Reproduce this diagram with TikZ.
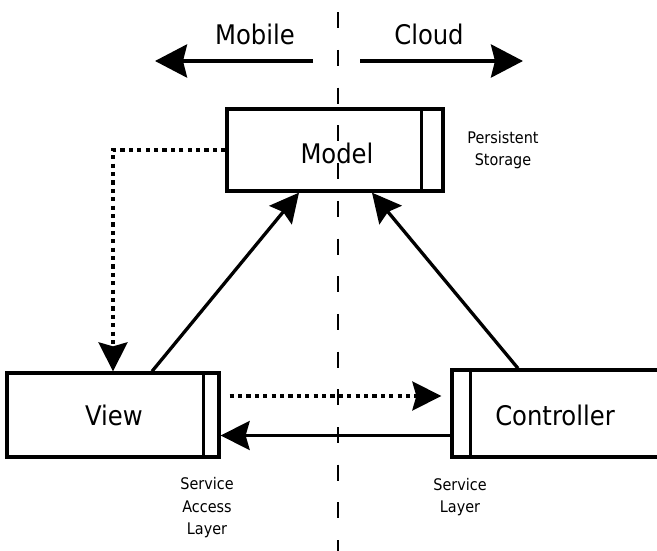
\documentclass[tikz,border=0pt]{standalone}
\usepackage{fontspec}
\setmainfont{DejaVu Sans Condensed}
\usetikzlibrary{arrows.meta}

\begin{document}
\begin{tikzpicture}[x=1pt,y=-1pt,
  box/.style={draw, line width=3.3pt, inner sep=0pt},
  divider/.style={line width=3.3pt},
  big/.style={font=\fontsize{27}{30}\selectfont, inner sep=0pt},
  small/.style={font=\fontsize{16}{22.5}\selectfont, align=center, inner sep=0pt},
  link/.style={line width=3.3pt, -{Stealth[length=29pt,width=29pt,inset=4pt]}},
  dots/.style={link, dash pattern=on 4.2pt off 4.2pt},
  sidearrow/.style={line width=4pt, -{Stealth[length=32pt,width=33pt,inset=4pt]}},
  boundary/.style={line width=2pt, dash pattern=on 16pt off 21.7pt},
]
\useasboundingbox (0,0) rectangle (657,551);

% headings and the two direction arrows
\node[big] (mobile) at (255,34) {Mobile};
\node[big] (cloud) at (429,34) {Cloud};
\coordinate (mobileA) at (313,61);
\coordinate (mobileB) at (155,61);
\coordinate (cloudA) at (360,61);
\coordinate (cloudB) at (523,61);
\draw[sidearrow] (mobileA) -- (mobileB);
\draw[sidearrow] (cloudA) -- (cloudB);

% Model
\node[box, minimum width=216pt, minimum height=82pt] (model) at (335,150) {};
\draw[divider] ([xshift=-23pt]model.north east) -- ([xshift=-23pt]model.south east);
\node[big] (modeltext) at (337,153) {Model};
\node[small] (persist) at (503,150) {Persistent\\Storage};

% View
\node[box, minimum width=212pt, minimum height=84pt] (view) at (113,415) {};
\draw[divider] ([xshift=-17pt]view.north east) -- ([xshift=-17pt]view.south east);
\node[big] (viewtext) at (114,415) {View};
\node[small] (sal) at (207,508) {Service\\Access\\Layer};

% Controller
\node[box, minimum width=238pt, minimum height=87pt] (controller) at (571,413.5) {};
\draw[divider] ([xshift=20pt]controller.north west) -- ([xshift=20pt]controller.south west);
\node[big] (controllertext) at (555,415) {Controller};
\node[small] (sl) at (460,497) {Service\\Layer};

% connectors
\draw[link] ([xshift=39pt]view.north) -- ([xshift=-36pt]model.south);
\draw[link] ([xshift=-53pt]controller.north) -- ([xshift=37pt]model.south);
\draw[dots] (model.west) -| (view.north);
\coordinate (h1) at ([xshift=9pt,yshift=19pt]view.east);
\coordinate (h2) at ([xshift=-9pt]controller.west);
\draw[dots] (h1) -- (h1 -| h2);
\coordinate (s1) at ([yshift=-22pt]controller.west);
\draw[link] (s1) -- (s1 -| view.east);

% mobile / cloud boundary
\coordinate (edgetop) at (338,12.3);
\coordinate (edgebot) at (338,551);
\draw[boundary] (edgetop) -- (edgebot);
\end{tikzpicture}
\end{document}
